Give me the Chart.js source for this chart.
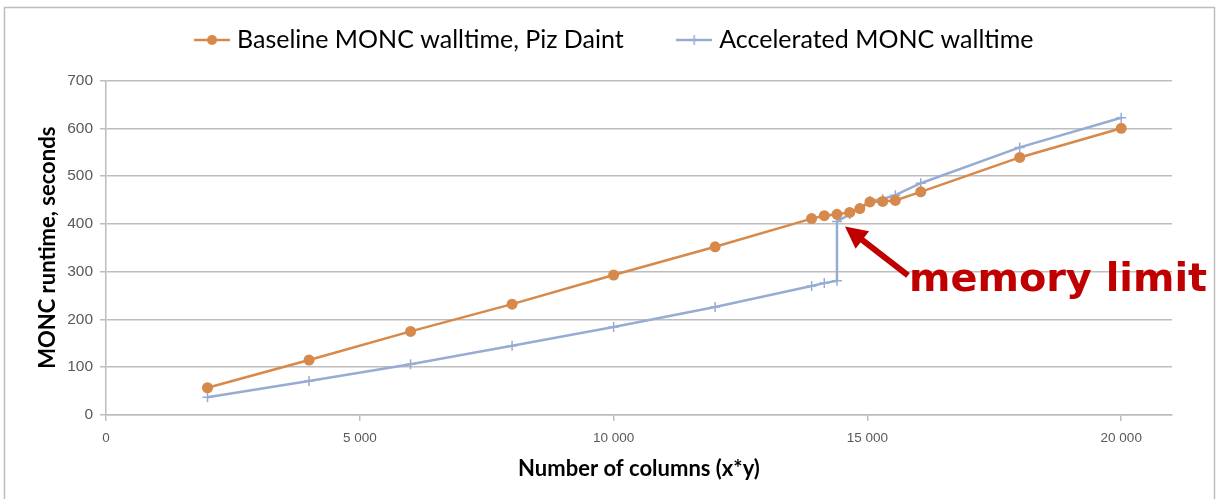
<!DOCTYPE html>
<html>
<head>
<meta charset="utf-8">
<script src="https://cdn.jsdelivr.net/npm/chart.js@4"></script>
<style>
  html, body { margin: 0; padding: 0; background: #fff; }
  #wrap { width: 1217px; height: 499px; }
</style>
</head>
<body>
<div id="wrap"><canvas id="runtimeChart" width="1217" height="499"></canvas></div>
<script>
// values
const seriesNames = ["Baseline MONC walltime, Piz Daint", "Accelerated MONC walltime"];
const baselineColumns = [2000, 4000, 6000, 8000, 10000, 12000, 13900, 14150, 14400, 14650, 14850, 15050, 15300, 15550, 16050, 18000, 20000];
const baselineTime = [57, 115, 175, 232, 293, 352, 411, 417, 420, 424, 432, 446, 447, 449, 467, 539, 600];
const accelColumns = [2000, 4000, 6000, 8000, 10000, 12000, 13900, 14150, 14400, 14400, 14650, 14850, 15050, 15300, 15550, 16050, 18000, 20000];
const accelTime = [37, 71, 106, 145, 184, 226, 270, 276, 281, 405, 420, 432, 448, 452, 460, 485, 560, 622];
const xTicks = [0, 5000, 10000, 15000, 20000];
const yTicks = [0, 100, 200, 300, 400, 500, 600, 700];
const memoryLimitAt = { x: 14400, y: 405 };

const orange = "#D6894A";
const blue = "#97ACD3";
const textGrey = "#595959";

function toPoints(xs, ys) {
  return xs.map(function (x, i) { return { x: x, y: ys[i] }; });
}

// little legend swatches: line with marker in the middle, like the original
function swatch(color, kind) {
  const c = document.createElement("canvas");
  c.width = 36; c.height = 14;
  const g = c.getContext("2d");
  g.strokeStyle = color; g.lineWidth = 2.5;
  g.beginPath(); g.moveTo(0, 7); g.lineTo(36, 7); g.stroke();
  if (kind === "circle") {
    g.fillStyle = color;
    g.beginPath(); g.arc(18, 7, 5, 0, Math.PI * 2); g.fill();
  } else {
    g.lineWidth = 1.5;
    g.beginPath(); g.moveTo(18, 2); g.lineTo(18, 12); g.stroke();
  }
  return c;
}

const frame = {
  id: "frame",
  beforeDraw: function (chart) {
    const g = chart.ctx;
    g.save();
    g.fillStyle = "#fff";
    g.fillRect(0, 0, chart.width, chart.height);
    g.strokeStyle = "#BDBDBD";
    g.lineWidth = 1.5;
    g.strokeRect(4.5, 7.5, 1210, 520);
    g.restore();
  }
};

// keep the wide gap between legend entries but leave the legend box at a fixed height
const legendHeight = {
  id: "legendHeight",
  afterInit: function (chart) {
    const fit = chart.legend.fit;
    chart.legend.fit = function () {
      fit.call(this);
      this.height = 111;
    };
  }
};

const memoryNote = {
  id: "memoryNote",
  afterDatasetsDraw: function (chart) {
    const g = chart.ctx;
    const sx = chart.scales.x, sy = chart.scales.y;
    const tipX = sx.getPixelForValue(memoryLimitAt.x) + 8;
    const tipY = sy.getPixelForValue(memoryLimitAt.y) + 5;
    const tailX = tipX + 63, tailY = tipY + 49;
    const ang = Math.atan2(tipY - tailY, tipX - tailX);
    g.save();
    g.strokeStyle = "#C00000";
    g.fillStyle = "#C00000";
    g.lineWidth = 6;
    const headLen = 22;
    g.beginPath();
    g.moveTo(tailX, tailY);
    g.lineTo(tipX - Math.cos(ang) * headLen * 0.8, tipY - Math.sin(ang) * headLen * 0.8);
    g.stroke();
    g.beginPath();
    g.moveTo(tipX, tipY);
    g.lineTo(tipX - Math.cos(ang) * headLen + Math.sin(ang) * 11, tipY - Math.sin(ang) * headLen - Math.cos(ang) * 11);
    g.lineTo(tipX - Math.cos(ang) * headLen - Math.sin(ang) * 11, tipY - Math.sin(ang) * headLen + Math.cos(ang) * 11);
    g.closePath();
    g.fill();
    // text, sized to span the same width as in the figure
    let size = 48;
    g.font = "bold " + size + "px 'DejaVu Sans'";
    size = size * 298 / g.measureText("memory limit").width;
    g.font = "bold " + size.toFixed(1) + "px 'DejaVu Sans'";
    g.textBaseline = "alphabetic";
    g.fillText("memory limit", tailX + 1, tailY + 16);
    g.restore();
  }
};

const ctx = document.getElementById("runtimeChart").getContext("2d");

const runtimeChart = new Chart(ctx, {
  type: "scatter",
  data: {
    datasets: [
      {
        label: seriesNames[0],
        data: toPoints(baselineColumns, baselineTime),
        showLine: true,
        borderColor: orange,
        backgroundColor: orange,
        borderWidth: 2.5,
        pointStyle: "circle",
        pointRadius: 5.5,
        pointBorderWidth: 0,
      },
      {
        label: seriesNames[1],
        data: toPoints(accelColumns, accelTime),
        showLine: true,
        borderColor: blue,
        backgroundColor: blue,
        borderWidth: 2.5,
        pointStyle: "cross",
        pointRadius: 5,
        pointBorderWidth: 1.5,
      },
    ],
  },
  options: {
    responsive: false,
    animation: false,
    layout: { padding: { left: 61, right: 45, top: -30.5, bottom: 13 } },
    plugins: {
      tooltip: { enabled: false },
      legend: {
        position: "top",
        labels: {
          usePointStyle: true,
          padding: 58,
          color: "#000",
          font: { family: "Lato", size: 25 },
          generateLabels: function (chart) {
            return chart.data.datasets.map(function (ds, i) {
              return {
                text: ds.label,
                pointStyle: swatch(ds.borderColor, i === 0 ? "circle" : "cross"),
                fillStyle: ds.borderColor,
                strokeStyle: ds.borderColor,
                lineWidth: 0,
                hidden: false,
                datasetIndex: i,
                fontColor: "#000",
              };
            });
          },
        },
      },
    },
    scales: {
      x: {
        type: "linear",
        min: 0,
        max: 21000,
        afterBuildTicks: function (scale) {
          scale.ticks = xTicks.map(function (v) { return { value: v }; });
        },
        afterFit: function (scale) { scale.height = 71; },
        border: { color: "#BDBDBD", width: 1.5 },
        grid: { drawOnChartArea: false, color: "#BDBDBD", tickLength: 6, lineWidth: 1.5 },
        ticks: {
          color: textGrey,
          font: { family: "Liberation Sans", size: 13.5 },
          padding: 9,
          maxRotation: 0,
          callback: function (v) { return v === 0 ? "0" : Math.floor(v / 1000) + " " + String(v % 1000).padStart(3, "0"); },
        },
        title: {
          display: true,
          text: "Number of columns (x*y)",
          color: "#000",
          font: { family: "Lato", size: 22, weight: "bold" },
        },
      },
      y: {
        min: 0,
        max: 700,
        afterBuildTicks: function (scale) {
          scale.ticks = yTicks.map(function (v) { return { value: v }; });
        },
        afterFit: function (scale) { scale.width = 45; },
        border: { color: "#BDBDBD", width: 1.5 },
        grid: { color: "#BDBDBD", tickLength: 6, lineWidth: 1.5 },
        ticks: {
          color: textGrey,
          font: { family: "Liberation Sans", size: 15.5 },
          padding: 7,
        },
        title: {
          display: true,
          text: "MONC runtime, seconds",
          color: "#000",
          font: { family: "Lato", size: 22, weight: "bold" },
          padding: { top: -26, bottom: 0 },
        },
      },
    },
  },
  plugins: [frame, legendHeight, memoryNote],
});
</script>
</body>
</html>
